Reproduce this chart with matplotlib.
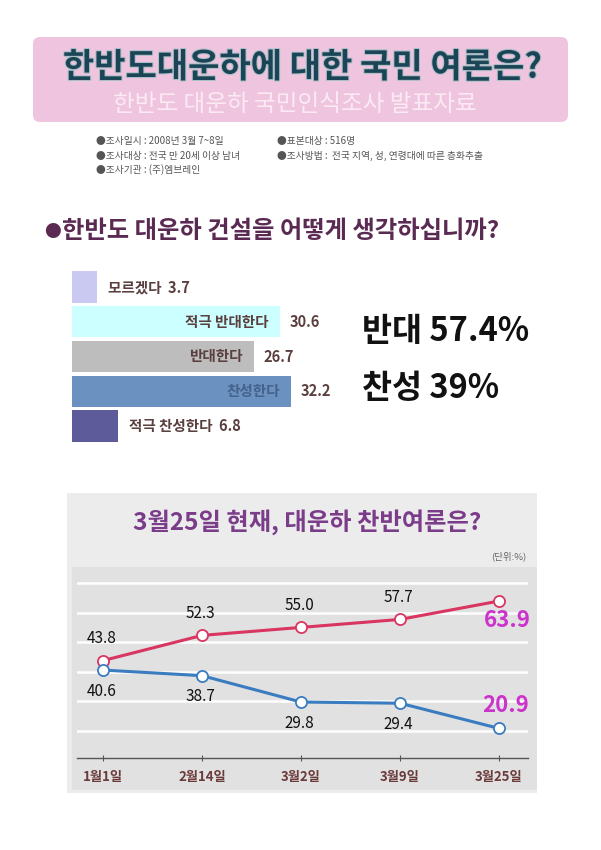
import matplotlib
matplotlib.use("Agg")
import matplotlib.pyplot as plt
from matplotlib.patches import FancyBboxPatch, Rectangle
import matplotlib.patheffects as pe

plt.rcParams['font.family'] = ['Noto Sans CJK KR', 'DejaVu Sans']

# ---------------- data ----------------
title = "한반도대운하에 대한 국민 여론은?"
subtitle = "한반도 대운하 국민인식조사 발표자료"
info_left = ["●조사일시 : 2008년 3월 7~8일", "●조사대상 : 전국 만 20세 이상 남녀", "●조사기관 : (주)엠브레인"]
info_right = ["●표본대상 : 516명", "●조사방법 :  전국 지역, 성, 연령대에 따른 층화추출"]
question_bullet = "●"
question = "한반도 대운하 건설을 어떻게 생각하십니까?"

bar_labels = ["모르겠다", "적극 반대한다", "반대한다", "찬성한다", "적극 찬성한다"]
bar_values = [3.7, 30.6, 26.7, 32.2, 6.8]
bar_colors = ["#c9c9f2", "#ccffff", "#bdbdbd", "#6b91c0", "#5d5b99"]
summary = ["반대 57.4%", "찬성 39%"]

line_title = "3월25일 현재, 대운하 찬반여론은?"
unit = "(단위:%)"
dates = ["1월1일", "2월14일", "3월2일", "3월9일", "3월25일"]
oppose = [43.8, 52.3, 55.0, 57.7, 63.9]
support = [40.6, 38.7, 29.8, 29.4, 20.9]

W, H = 601, 850
fig = plt.figure(figsize=(W / 100, H / 100), dpi=100)
fig.patch.set_facecolor("white")

# background axes in pixel coordinates
bg = fig.add_axes([0, 0, 1, 1])
bg.set_xlim(0, W)
bg.set_ylim(H, 0)
bg.axis("off")

# ---- header box ----
bg.add_patch(FancyBboxPatch((33, 37), 535, 85, boxstyle="round,pad=0,rounding_size=7",
                            fc="#efc4df", ec="none"))
bg.text(302, 67, title, ha="center", va="center", fontsize=24.5, fontweight="bold",
        color="#1b4556",
        path_effects=[pe.withStroke(linewidth=1.5, foreground="#a9bfc6")])
bg.text(295, 104, subtitle, ha="center", va="center", fontsize=17, color="#fbeaf4")

# ---- info ----
for i, s in enumerate(info_left):
    bg.text(96, 141 + i * 14.5, s, ha="left", va="center", fontsize=7, color="#555555")
for i, s in enumerate(info_right):
    bg.text(277, 141 + i * 14.5, s, ha="left", va="center", fontsize=7, color="#555555")

# ---- question ----
bg.text(44, 232, question_bullet, ha="left", va="center", fontsize=12, color="#5a2a52")
bg.text(62, 231, question, ha="left", va="center", fontsize=17.5, fontweight="bold",
        color="#5a2a52")

# ---- bar chart ----
px_per_unit = 6.8
ax_b_left, ax_b_w = 72, 300
ax_b_top, ax_b_bot = 269.6, 443.4
axb = fig.add_axes([ax_b_left / W, 1 - ax_b_bot / H, ax_b_w / W, (ax_b_bot - ax_b_top) / H])
axb.set_xlim(0, ax_b_w / px_per_unit)
axb.set_ylim(len(bar_values) - 0.5, -0.5)
axb.barh(range(len(bar_values)), bar_values, height=0.9, color=bar_colors)
axb.axis("off")
axb.patch.set_alpha(0)
txt_col = "#5b3f3f"
for i, (lab, v) in enumerate(zip(bar_labels, bar_values)):
    if v > 15:
        c = "#44638c" if i == 3 else txt_col
        axb.annotate(lab, (v, i), xytext=(-8, 0), textcoords="offset points",
                     ha="right", va="center", fontsize=10.5, fontweight="bold", color=c)
        axb.annotate(f"{v}", (v, i), xytext=(7, 0), textcoords="offset points",
                     ha="left", va="center", fontsize=10.5, fontweight="bold", color=txt_col)
    else:
        axb.annotate(f"{lab}  {v}", (v, i), xytext=(8, 0), textcoords="offset points",
                     ha="left", va="center", fontsize=10.5, fontweight="bold", color=txt_col)

bg.text(362, 331, summary[0], ha="left", va="center", fontsize=23.5, fontweight="bold",
        color="#111111")
bg.text(362, 388, summary[1], ha="left", va="center", fontsize=23.5, fontweight="bold",
        color="#111111")

# ---- line chart panel ----
bg.add_patch(Rectangle((67, 493), 470, 300, fc="#ececec", ec="none"))
bg.add_patch(Rectangle((72, 567), 465, 223, fc="#e1e1e1", ec="none"))
bg.text(307, 522, line_title, ha="center", va="center", fontsize=17.5, fontweight="bold",
        color="#7b3d8a")
bg.text(526, 556, unit, ha="right", va="center", fontsize=6.8, color="#666666")

l_left, l_right, l_top, l_bot = 77, 528, 575, 758
axl = fig.add_axes([l_left / W, 1 - l_bot / H, (l_right - l_left) / W, (l_bot - l_top) / H])
axl.patch.set_alpha(0)
x = list(range(len(dates)))
axl.set_xlim(-0.263, 4.293)
axl.set_ylim(10.9, 72.7)
for gy in [20, 30, 40, 50, 60, 70]:
    axl.axhline(gy, color="white", lw=1.8, zorder=1)
axl.plot(x, oppose, color="#d83560", lw=2.2, zorder=3, marker="o", ms=8,
         mfc="white", mec="#d83560", mew=1.3)
axl.plot(x, support, color="#3a7cc0", lw=2.2, zorder=3, marker="o", ms=8,
         mfc="white", mec="#3a7cc0", mew=1.3)
for spine in ["top", "right", "left"]:
    axl.spines[spine].set_visible(False)
axl.spines["bottom"].set_color("#555555")
axl.spines["bottom"].set_linewidth(1)
axl.set_yticks([])
axl.set_xticks(x)
axl.set_xticklabels(dates, fontsize=9.5, fontweight="bold", color="#6b3b3b")
axl.tick_params(axis="x", direction="inout", length=5, color="#555555", pad=6)

for i, v in enumerate(oppose):
    if i < len(oppose) - 1:
        axl.annotate(f"{v:.1f}", (i, v), xytext=(-1, 10), textcoords="offset points",
                     ha="center", va="bottom", fontsize=11, color="#111111")
    else:
        axl.annotate(f"{v:.1f}", (i, v), xytext=(6, -6), textcoords="offset points",
                     ha="center", va="top", fontsize=16, fontweight="bold", color="#cc33cc")
for i, v in enumerate(support):
    if i < len(support) - 1:
        axl.annotate(f"{v:.1f}", (i, v), xytext=(-1, -9), textcoords="offset points",
                     ha="center", va="top", fontsize=11, color="#111111")
    else:
        axl.annotate(f"{v:.1f}", (i, v), xytext=(5, 8), textcoords="offset points",
                     ha="center", va="bottom", fontsize=16, fontweight="bold", color="#cc33cc")

fig.savefig("out.png", dpi=100, facecolor="white")
